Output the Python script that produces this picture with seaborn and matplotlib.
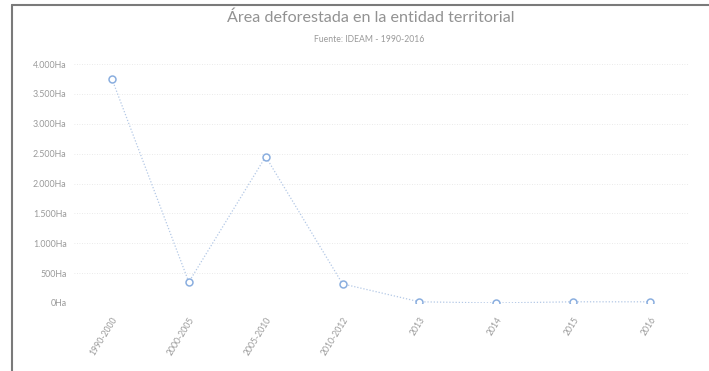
import matplotlib
matplotlib.use("Agg")
import matplotlib.pyplot as plt
import matplotlib.lines as mlines
import seaborn as sns
import pandas as pd

periods = ["1990-2000", "2000-2005", "2005-2010", "2010-2012", "2013", "2014", "2015", "2016"]
area_ha = [3750, 350, 2450, 320, 20, 0, 20, 20]
y_ticks = [0, 500, 1000, 1500, 2000, 2500, 3000, 3500, 4000]
y_tick_labels = ["0Ha", "500Ha", "1.000Ha", "1.500Ha", "2.000Ha", "2.500Ha", "3.000Ha", "3.500Ha", "4.000Ha"]
title = "Área deforestada en la entidad territorial"
subtitle = "Fuente: IDEAM - 1990-2016"

sns.set_style("white")
plt.rcParams['font.family'] = ['Lato', 'DejaVu Sans']

df = pd.DataFrame({"periodo": periods, "area": area_ha})

W, H = 709, 371
fig = plt.figure(figsize=(W / 100, H / 100), dpi=100)
fig.patch.set_facecolor("white")
ax = fig.add_axes([73.5 / W, 1 - 303 / H, (688.5 - 73.5) / W, (303 - 64) / H])

sns.lineplot(data=df, x="periodo", y="area", ax=ax, sort=False,
             color="#b3c8e6", linestyle=(0, (1, 1.5)), linewidth=0.9,
             marker="o", markersize=5, markerfacecolor="white",
             markeredgecolor="#8aaedf", markeredgewidth=1.1)

ax.set_xlim(-0.5, len(periods) - 0.5)
ax.set_ylim(0, 4000)
ax.set_yticks(y_ticks)
ax.set_yticklabels(y_tick_labels, fontsize=6.4, color="#9a9a9a")
ax.set_xticks(range(len(periods)))
ax.set_xticklabels(periods, rotation=58, ha="right", rotation_mode="anchor",
                   fontsize=6.2, color="#9a9a9a")
ax.tick_params(axis="y", length=0, pad=5)
ax.tick_params(axis="x", length=0, pad=9)
ax.set_xlabel("")
ax.set_ylabel("")
for s in ax.spines.values():
    s.set_visible(False)
ax.grid(axis="y", color="#e3e3e3", linestyle=(0, (1, 2)), linewidth=0.6)
ax.grid(axis="x", visible=False)
ax.set_axisbelow(True)

fig.text(371 / W, 1 - 18 / H, title, ha="center", va="center",
         fontsize=11.6, color="#929292")
fig.text(369 / W, 1 - 39 / H, subtitle, ha="center", va="center",
         fontsize=6.2, color="#9a9a9a")

# scanned frame border (left and top)
fig.add_artist(mlines.Line2D([12 / W, 12 / W], [0, 1 - 5 / H], transform=fig.transFigure,
                             color="#7a7a7a", linewidth=1.5))
fig.add_artist(mlines.Line2D([12 / W, 1], [1 - 5 / H, 1 - 5 / H], transform=fig.transFigure,
                             color="#7a7a7a", linewidth=1.5))

fig.savefig("out.png", dpi=100, facecolor="white")
